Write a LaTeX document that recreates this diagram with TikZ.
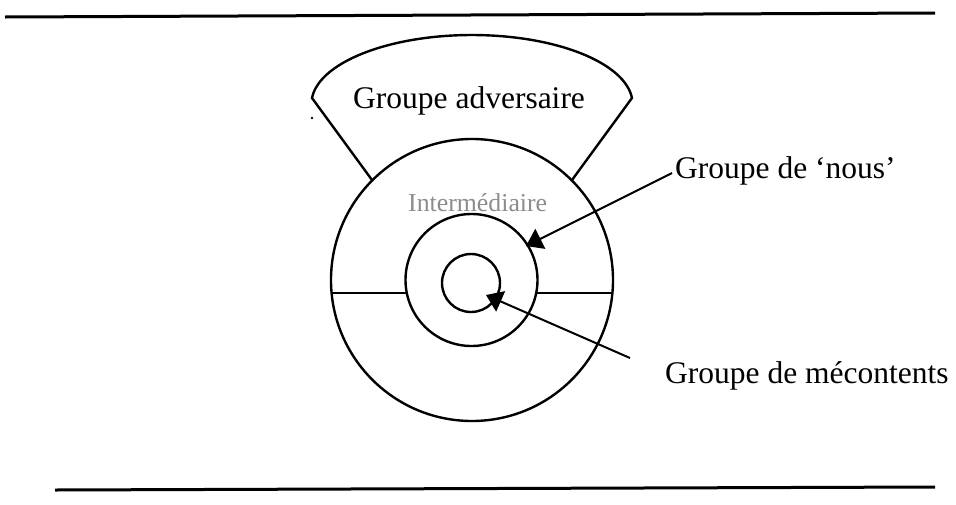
\documentclass[tikz,border=0pt]{standalone}
\usepackage{fontspec}
\setmainfont{Liberation Serif}
\usetikzlibrary{arrows.meta}
\begin{document}
\begin{tikzpicture}[x=1pt,y=-1pt,
  ring/.style={line width=2.4pt},
  rule/.style={line width=3pt},
  pointer/.style={line width=2pt,-{Triangle[length=16pt,width=22pt]}},
  lbl/.style={font=\fontsize{31.5}{36}\selectfont, inner sep=0pt, anchor=base west},
  faint/.style={font=\fontsize{25.8}{30}\selectfont, inner sep=0pt, anchor=base west, text=black!45}]
\useasboundingbox (0,0) rectangle (956,504);
% rules
\draw[rule] (5,17) -- (935,13);
\draw[rule] (55,490) -- (935,487);
% circles
\coordinate (oc) at (472,280);
\coordinate (mc) at (471.5,280);
\coordinate (ic) at (471,283);
\draw[ring] (oc) circle[radius=141];
\draw[ring] (mc) circle[radius=66];
\draw[ring] (ic) circle[radius=29];
% dividing lines
\draw[ring] (331.6,293) -- (406.8,293);
\draw[ring] (536.2,293) -- (612.4,293);
% adversary shape
\coordinate (lc) at (312,98);
\draw[ring, line join=miter] (372,180) -- (lc) arc[start angle=185, end angle=355, x radius=160.6, y radius=69] -- (572,180);
\fill (312,118) circle[radius=1.3];
% labels
\node[lbl] (adv) at (353,108) {Groupe adversaire};
\node[faint] (inter) at (408,211) {Intermédiaire};
\node[lbl] (nous) at (675,178) {Groupe de ‘nous’};
\node[lbl] (mec) at (665,383) {Groupe de mécontents};
% arrows
\coordinate (nousend) at (526,246);
\coordinate (mecstart) at (630,358);
\coordinate (mecend) at (486,295);
\draw[pointer] (672,173) -- (nousend);
\draw[pointer] (mecstart) -- (mecend);
\end{tikzpicture}
\end{document}
